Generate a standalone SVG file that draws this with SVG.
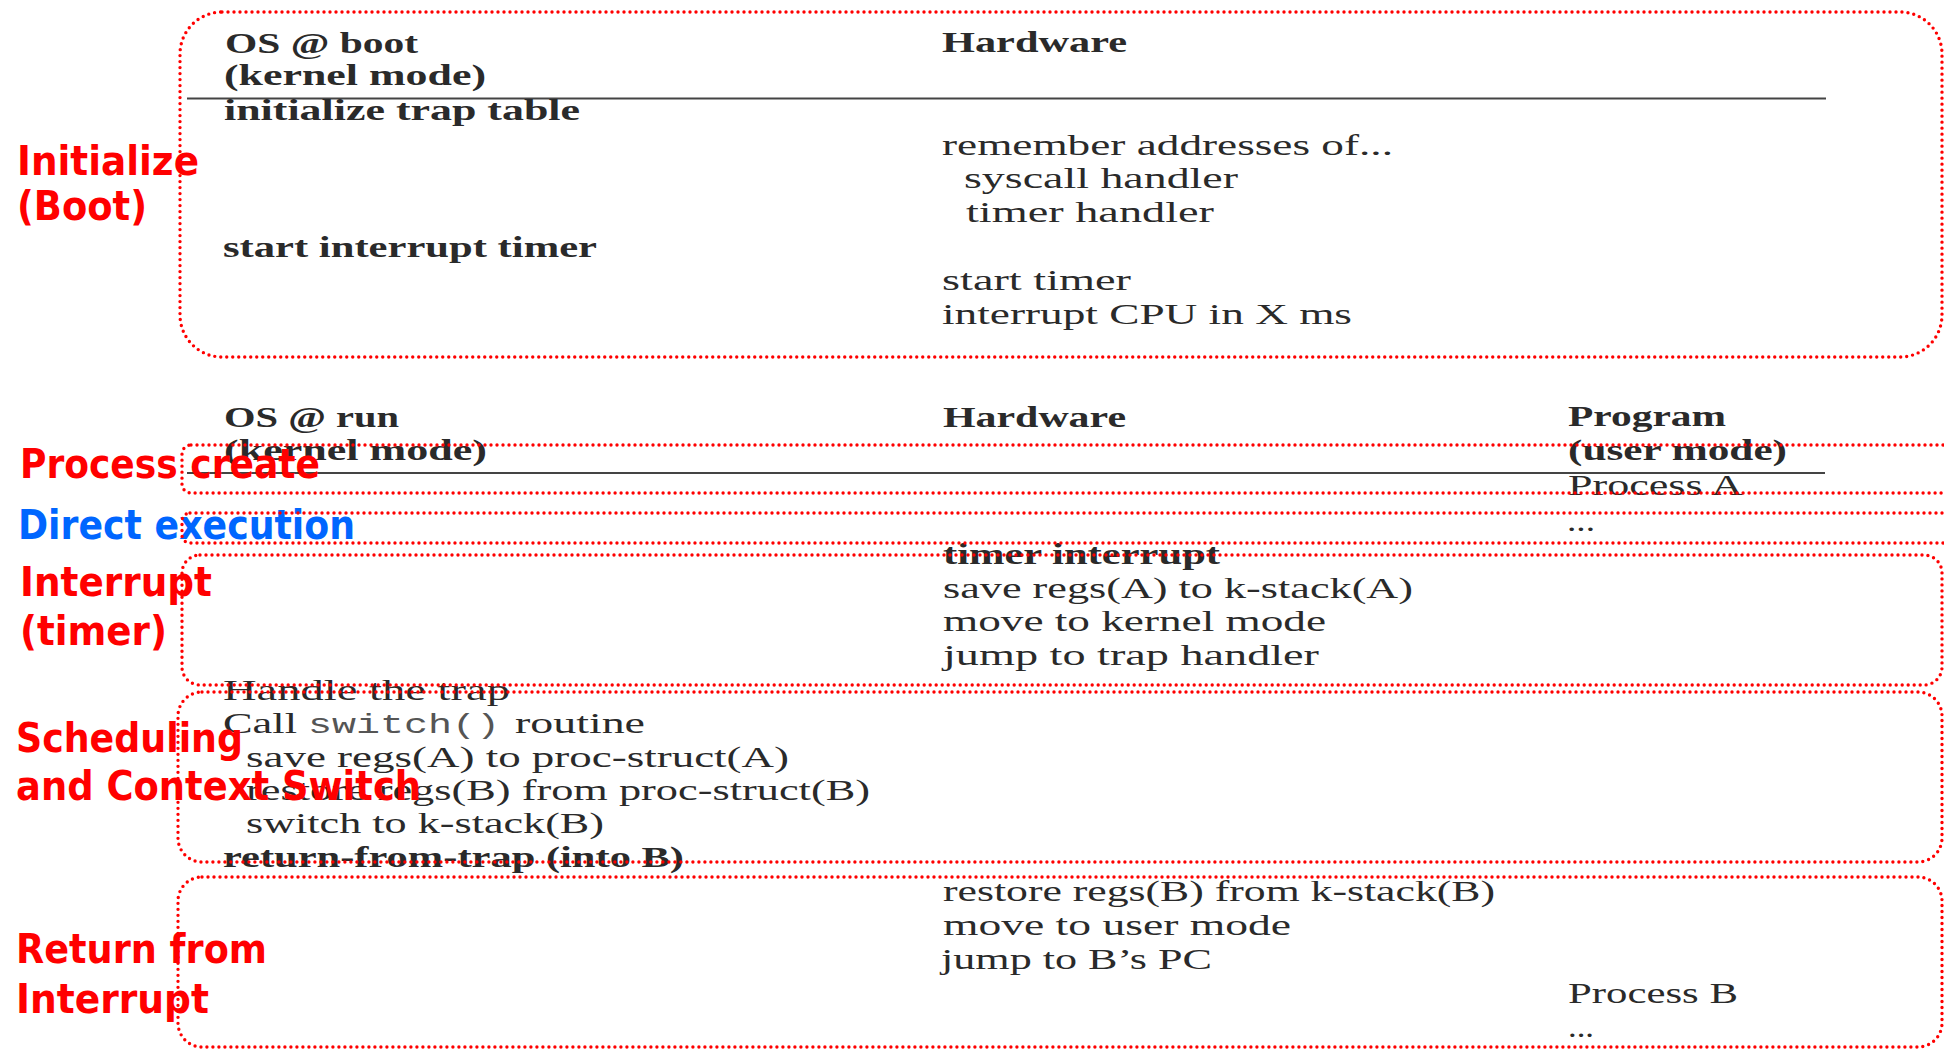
<svg xmlns="http://www.w3.org/2000/svg" width="1944" height="1049" viewBox="0 0 1944 1049">
<style>
.t{font-family:"Liberation Serif","Times New Roman",serif;font-size:29px;fill:#2a2a2a}
.b{font-weight:bold}
.m{font-family:"Liberation Mono","Courier New",monospace;font-size:28px;fill:#555}
.lbl{font-family:"DejaVu Sans",Verdana,sans-serif;font-weight:bold;font-size:41px;fill:#ff0000}
.blue{fill:#0066ff}
.box{fill:none;stroke:#ff0000;stroke-width:3.4;stroke-dasharray:0 6;stroke-linecap:round}
.rule{stroke:#444;stroke-width:2}
</style>
<rect width="1944" height="1049" fill="#ffffff"/>

<g id="table-boot">
<text class="t b" x="225" y="53" textLength="193" lengthAdjust="spacingAndGlyphs">OS @ boot</text>
<text class="t b" x="224" y="85" textLength="262" lengthAdjust="spacingAndGlyphs">(kernel mode)</text>
<text class="t b" x="942" y="52" textLength="185" lengthAdjust="spacingAndGlyphs">Hardware</text>
<line class="rule" x1="187" y1="98.5" x2="1826" y2="98.5"/>
<text class="t b" x="224" y="120" textLength="356" lengthAdjust="spacingAndGlyphs">initialize trap table</text>
<text class="t" x="942" y="155" textLength="451" lengthAdjust="spacingAndGlyphs">remember addresses of...</text>
<text class="t" x="964" y="188" textLength="274" lengthAdjust="spacingAndGlyphs">syscall handler</text>
<text class="t" x="966" y="222" textLength="248" lengthAdjust="spacingAndGlyphs">timer handler</text>
<text class="t b" x="223" y="257" textLength="374" lengthAdjust="spacingAndGlyphs">start interrupt timer</text>
<text class="t" x="942" y="290" textLength="189" lengthAdjust="spacingAndGlyphs">start timer</text>
<text class="t" x="942" y="324" textLength="410" lengthAdjust="spacingAndGlyphs">interrupt CPU in X ms</text>
</g>

<g id="table-run">
<text class="t b" x="224" y="427" textLength="175" lengthAdjust="spacingAndGlyphs">OS @ run</text>
<text class="t b" x="224" y="460" textLength="263" lengthAdjust="spacingAndGlyphs">(kernel mode)</text>
<text class="t b" x="943" y="427" textLength="183" lengthAdjust="spacingAndGlyphs">Hardware</text>
<text class="t b" x="1568" y="426" textLength="158" lengthAdjust="spacingAndGlyphs">Program</text>
<text class="t b" x="1568" y="460" textLength="219" lengthAdjust="spacingAndGlyphs">(user mode)</text>
<line class="rule" x1="187" y1="473" x2="1825" y2="473"/>
<text class="t" x="1568" y="495" textLength="175" lengthAdjust="spacingAndGlyphs">Process A</text>
<text class="t" x="1567" y="531" textLength="28" lengthAdjust="spacingAndGlyphs">...</text>
<text class="t b" x="943" y="564" textLength="277" lengthAdjust="spacingAndGlyphs">timer interrupt</text>
<text class="t" x="943" y="598" textLength="470" lengthAdjust="spacingAndGlyphs">save regs(A) to k-stack(A)</text>
<text class="t" x="943" y="631" textLength="383" lengthAdjust="spacingAndGlyphs">move to kernel mode</text>
<text class="t" x="943" y="665" textLength="376" lengthAdjust="spacingAndGlyphs">jump to trap handler</text>
<text class="t" x="223" y="700" textLength="287" lengthAdjust="spacingAndGlyphs">Handle the trap</text>
<text class="t" x="223" y="733" textLength="74" lengthAdjust="spacingAndGlyphs">Call</text>
<text class="m" x="308" y="733" textLength="192" lengthAdjust="spacingAndGlyphs">switch()</text>
<text class="t" x="515" y="733" textLength="130" lengthAdjust="spacingAndGlyphs">routine</text>
<text class="t" x="246" y="767" textLength="543" lengthAdjust="spacingAndGlyphs">save regs(A) to proc-struct(A)</text>
<text class="t" x="246" y="800" textLength="624" lengthAdjust="spacingAndGlyphs">restore regs(B) from proc-struct(B)</text>
<text class="t" x="246" y="833" textLength="358" lengthAdjust="spacingAndGlyphs">switch to k-stack(B)</text>
<text class="t b" x="223" y="867" textLength="461" lengthAdjust="spacingAndGlyphs">return-from-trap (into B)</text>
<text class="t" x="943" y="901" textLength="552" lengthAdjust="spacingAndGlyphs">restore regs(B) from k-stack(B)</text>
<text class="t" x="943" y="935" textLength="348" lengthAdjust="spacingAndGlyphs">move to user mode</text>
<text class="t" x="941" y="969" textLength="271" lengthAdjust="spacingAndGlyphs">jump to B’s PC</text>
<text class="t" x="1568" y="1003" textLength="170" lengthAdjust="spacingAndGlyphs">Process B</text>
<text class="t" x="1568" y="1037" textLength="26" lengthAdjust="spacingAndGlyphs">...</text>
</g>

<g id="labels">
<text class="lbl" x="17" y="175" textLength="182" lengthAdjust="spacingAndGlyphs">Initialize</text>
<text class="lbl" x="17" y="220" textLength="130" lengthAdjust="spacingAndGlyphs">(Boot)</text>
<text class="lbl" x="20" y="478" textLength="300" lengthAdjust="spacingAndGlyphs">Process create</text>
<text class="lbl blue" x="18" y="539" textLength="337" lengthAdjust="spacingAndGlyphs">Direct execution</text>
<text class="lbl" x="20" y="596" textLength="192" lengthAdjust="spacingAndGlyphs">Interrupt</text>
<text class="lbl" x="20" y="645" textLength="147" lengthAdjust="spacingAndGlyphs">(timer)</text>
<text class="lbl" x="16" y="752" textLength="227" lengthAdjust="spacingAndGlyphs">Scheduling</text>
<text class="lbl" x="16" y="800" textLength="405" lengthAdjust="spacingAndGlyphs">and Context Switch</text>
<text class="lbl" x="16" y="963" textLength="251" lengthAdjust="spacingAndGlyphs">Return from</text>
<text class="lbl" x="16" y="1013" textLength="193" lengthAdjust="spacingAndGlyphs">Interrupt</text>
</g>

<g id="boxes">
<rect id="box-boot" class="box" x="180" y="12" width="1762" height="345" rx="42" ry="42"/>
<rect id="box-create" class="box" x="182" y="445" width="1800" height="48" rx="9" ry="9"/>
<rect id="box-direct" class="box" x="182" y="513" width="1800" height="30" rx="8" ry="8"/>
<rect id="box-interrupt" class="box" x="182" y="555" width="1760" height="130" rx="18" ry="18"/>
<rect id="box-switch" class="box" x="178" y="692" width="1764" height="170" rx="24" ry="24"/>
<rect id="box-return" class="box" x="178" y="877" width="1764" height="170" rx="24" ry="24"/>
</g>
</svg>
